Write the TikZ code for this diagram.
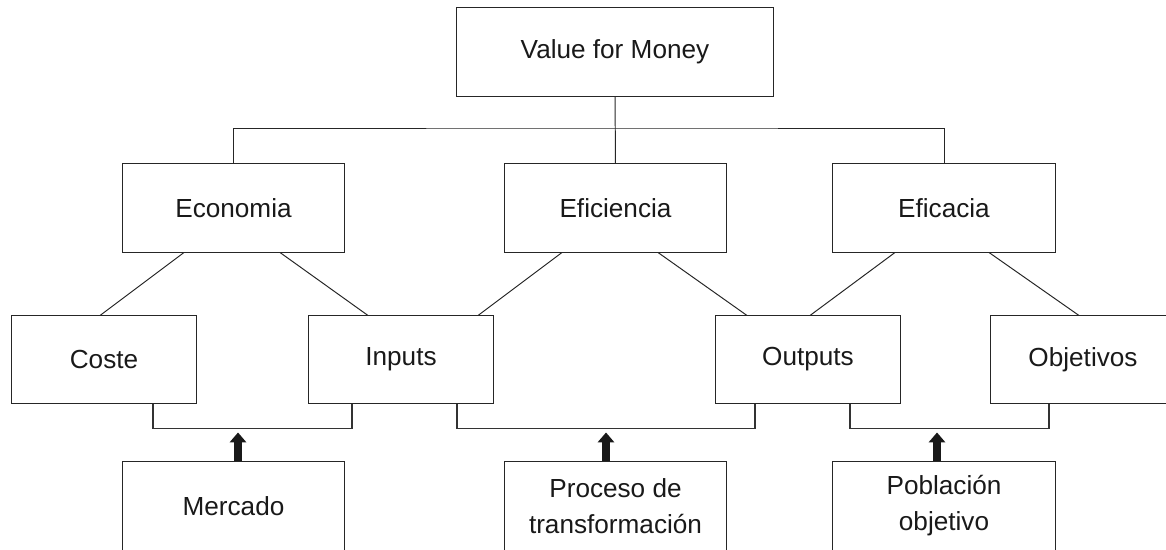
\documentclass[tikz,border=0pt]{standalone}
\usepackage{fontspec}
\setmainfont{Liberation Sans}
\usetikzlibrary{arrows.meta, calc}

\begin{document}
\begin{tikzpicture}[
x=0.025cm, y=-0.025cm,
box/.style={rectangle, draw=black!85, line width=0.7pt, text=black!90,
font=\fontsize{18.6}{25.5}\selectfont, align=center, inner sep=0pt},
box-top/.style={box, minimum width=7.9cm, minimum height=2.2cm},
box-mid/.style={box, minimum width=5.55cm, minimum height=2.2cm},
box-low/.style={box, minimum width=4.6cm, minimum height=2.175cm},
line/.style={draw=black!85, line width=0.7pt},
bracket/.style={draw=black!80, line width=1pt},
push/.style={draw=black!90, line width=5.6pt,
-{Triangle[width=11.5pt, length=7pt]}}
]
\useasboundingbox (0,0) rectangle (1166,550);

% top and second level
\node[box-top] (vfm) at (615,52) {Value for Money};
\node[box-mid] (economia) at (233.5,208) {Economia};
\node[box-mid] (eficiencia) at (615.5,208) {Eficiencia};
\node[box-mid] (eficacia) at (944,208) {Eficacia};
\coordinate (bus) at (615,128);

% third level
\node[box-low] (coste) at (104,359.5) {Coste};
\node[box-low] (inputs) at (401,359.5) {Inputs};
\node[box-low] (outputs) at (808,359.5) {Outputs};
\node[box-low] (objetivos) at (1083,359.5) {Objetivos};

% bottom
\node[box-mid] (mercado) at (233.5,506) {Mercado};
\node[box-mid] (proceso) at (615.5,506) {Proceso de\\transformación};
\node[box-mid] (poblacion) at (944,506) {Población\\objetivo};

\path [line] (vfm) -- (eficiencia);
\path [line] (economia.north) |- (bus) -| (eficacia.north);

\path [line] ($(economia.south)+(-49.5,0)$) -- ($(coste.north)+(-4,0)$);
\path [line] ($(economia.south)+(46.5,0)$) -- ($(inputs.north)+(-33,0)$);
\path [line] ($(eficiencia.south)+(-53.5,0)$) -- ($(inputs.north)+(77,0)$);
\path [line] ($(eficiencia.south)+(42.5,0)$) -- ($(outputs.north)+(-61,0)$);
\path [line] ($(eficacia.south)+(-49,0)$) -- ($(outputs.north)+(2,0)$);
\path [line] ($(eficacia.south)+(45,0)$) -- ($(objetivos.north)+(-4,0)$);

\path [bracket] ($(coste.south)+(49,0)$) -- ++(0,25) -| ($(inputs.south)+(-49,0)$);
\path [bracket] ($(inputs.south)+(56,0)$) -- ++(0,25) -| ($(outputs.south)+(-53,0)$);
\path [bracket] ($(outputs.south)+(42,0)$) -- ++(0,25) -| ($(objetivos.south)+(-34,0)$);

\path [push] ($(mercado.north)+(4.5,0)$) -- ++(0,-29);
\path [push] ($(proceso.north)+(-9.5,0)$) -- ++(0,-29);
\path [push] ($(poblacion.north)+(-7,0)$) -- ++(0,-29);
\end{tikzpicture}
\end{document}
